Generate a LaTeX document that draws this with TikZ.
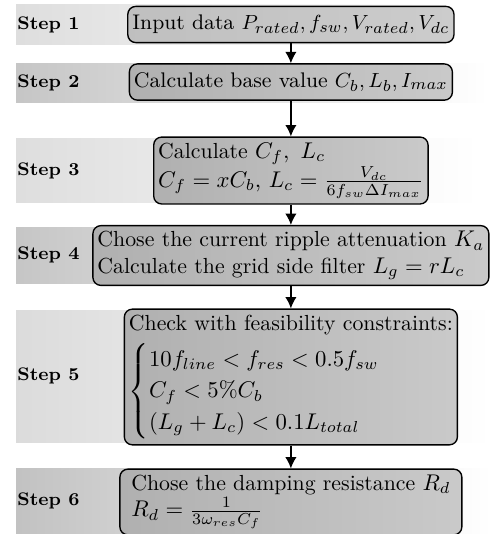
\documentclass[tikz,border=0pt]{standalone}
\usepackage{amsmath}
\usetikzlibrary{arrows.meta}
\begin{document}
\begin{tikzpicture}[
  box/.style={draw,rounded corners=3.5pt,line width=0.6pt,left color=gray!62,right color=gray!42,
    align=left,inner xsep=2pt,inner ysep=2.5pt,minimum height=0.56cm,font=\fontsize{9.6}{11.6}\selectfont},
  steplabel/.style={anchor=west,font=\footnotesize\bfseries,inner sep=0pt},
  >={Latex[length=5pt,width=5pt]}
]
  \useasboundingbox (0,0) rectangle (7.596,-8.261);

  % background bands
  \fill[left color=gray!26,right color=white] (0.248,-0.077) rectangle (7.085,-0.696);
  \fill[left color=gray!45,right color=white] (0.248,-0.975) rectangle (7.55,-1.578);
  \fill[left color=gray!26,right color=white] (0.248,-2.150) rectangle (7.395,-3.125);
  \fill[left color=gray!45,right color=white] (0.248,-3.527) rectangle (7.596,-4.378);
  \fill[left color=gray!28,right color=white] (0.248,-4.796) rectangle (7.596,-6.853);
  \fill[left color=gray!48,right color=white] (0.248,-7.240) rectangle (7.596,-8.261);

  % step labels
  \node[steplabel] (s1) at (0.263,-0.387) {Step 1};
  \node[steplabel] (s2) at (0.263,-1.277) {Step 2};
  \node[steplabel] (s3) at (0.263,-2.640) {Step 3};
  \node[steplabel] (s4) at (0.263,-3.950) {Step 4};
  \node[steplabel] (s5) at (0.263,-5.820) {Step 5};
  \node[steplabel] (s6) at (0.263,-7.750) {Step 6};

  % boxes
  \node[box,left color=gray!50,right color=gray!40,font=\fontsize{9.3}{11.2}\selectfont] (b1) at (4.5,-0.379)
    {Input data $P_{rated}, f_{sw}, V_{rated}, V_{dc}$};
  \node[box,font=\fontsize{9.3}{11.2}\selectfont] (b2) at (4.5,-1.269) {Calculate base value $C_b, L_b, I_{max}$};
  \node[box,minimum height=0.91cm] (b3) at (4.5,-2.638)
    {Calculate $C_f,\ L_c$\\ $C_f = xC_b,\, L_c = \frac{V_{dc}}{6f_{sw}\Delta I_{max}}$};
  \node[box,minimum height=0.82cm] (b4) at (4.5,-3.953)
    {Chose the current ripple attenuation $K_a$\\ Calculate the grid side filter $L_g = rL_c$};
  \node[box,minimum height=2.01cm] (b5) at (4.5,-5.832)
    {Check with feasibility constraints:\\[3pt]
     $\begin{cases} 10f_{line} < f_{res} < 0.5f_{sw}\\ C_f < 5\%C_b\\ (L_g + L_c) < 0.1L_{total}\end{cases}$};
  \node[box,minimum height=0.96cm,minimum width=5.29cm] (b6) at (4.5,-7.766)
    {Chose the damping resistance $R_d$\\ $R_d = \frac{1}{3\omega_{res}C_f}$};

  % arrows
  \draw[->,line width=0.6pt] (b1) -- (b2);
  \draw[->,line width=0.6pt] (b2) -- (b3);
  \draw[->,line width=0.6pt] (b3) -- (b4);
  \draw[->,line width=0.6pt] (b4) -- (b5);
  \draw[->,line width=0.6pt] (b5) -- (b6);
\end{tikzpicture}
\end{document}
